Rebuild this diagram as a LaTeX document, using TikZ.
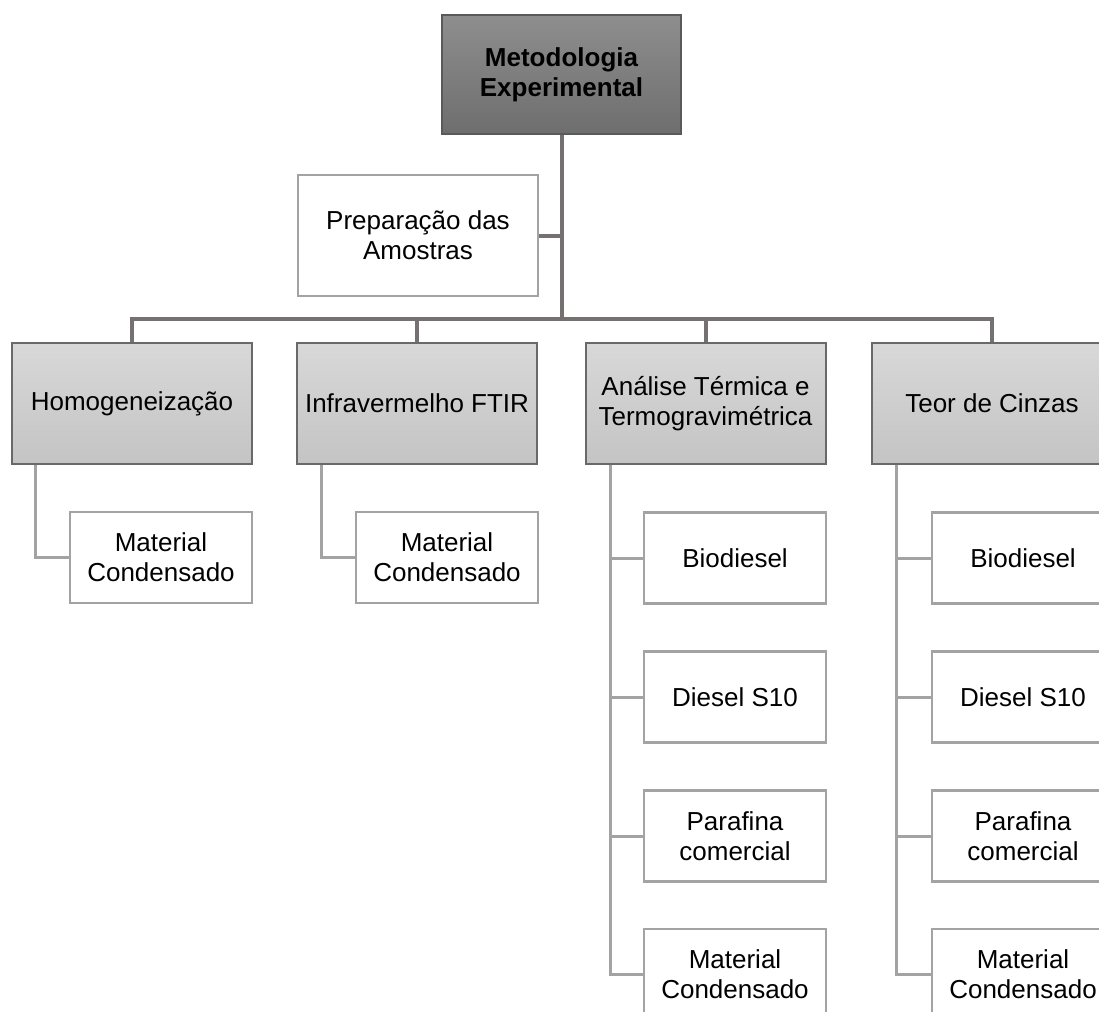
\documentclass[tikz,border=0pt]{standalone}
\usepackage{fontspec}
\setmainfont{Liberation Sans}
\definecolor{trunkc}{RGB}{118,113,113}
\definecolor{leafline}{RGB}{163,163,163}
\definecolor{topedge}{RGB}{90,90,90}
\definecolor{midedge}{RGB}{105,105,105}
\tikzset{
  every node/.style={inner sep=2pt, align=center, font=\fontsize{26}{30}\selectfont},
  rootbox/.style={draw=topedge, line width=2pt, top color={rgb,255:red,142;green,142;blue,142}, bottom color={rgb,255:red,110;green,110;blue,110}, minimum width=239pt, minimum height=119pt, font=\fontsize{26}{30}\selectfont\bfseries},
  prepbox/.style={draw=leafline, line width=2.5pt, fill=white, minimum width=240pt, minimum height=121pt},
  midbox/.style={draw=midedge, line width=2pt, top color={rgb,255:red,216;green,216;blue,216}, bottom color={rgb,255:red,196;green,196;blue,196}, minimum width=240pt, minimum height=121pt},
  leafbox/.style={draw=leafline, line width=2.5pt, fill=white, minimum width=182pt, minimum height=91pt},
  trunk/.style={draw=trunkc, line width=4pt},
  leaflink/.style={draw=leafline, line width=3pt}
}
\begin{document}
\begin{tikzpicture}[x=1pt,y=-1pt]
\clip (0,0) rectangle (1099,1011);
% nodes
\node[rootbox] (root) at (561.5,74.5) {Metodologia\\Experimental};
\node[prepbox] (prep) at (418,235.5) {Preparação das\\Amostras};
\node[midbox] (homo) at (132,403.5) {Homogeneização};
\node[midbox] (ftir) at (417,403.5) {Infravermelho FTIR};
\node[midbox] (term) at (705.5,403.5) {Análise Térmica e\\Termogravimétrica};
\node[midbox] (cinz) at (992,403.5) {Teor de Cinzas};
\node[leafbox] (homoA) at (161,557.5) {Material\\Condensado};
\node[leafbox] (ftirA) at (447,557.5) {Material\\Condensado};
\node[leafbox] (termA) at (735,558) {Biodiesel};
\node[leafbox] (termB) at (735,697) {Diesel S10};
\node[leafbox] (termC) at (735,836) {Parafina\\comercial};
\node[leafbox] (termD) at (735,974.5) {Material\\Condensado};
\node[leafbox] (cinzA) at (1023,558) {Biodiesel};
\node[leafbox] (cinzB) at (1023,697) {Diesel S10};
\node[leafbox] (cinzC) at (1023,836) {Parafina\\comercial};
\node[leafbox] (cinzD) at (1023,974.5) {Material\\Condensado};
% trunk
\coordinate (busL) at (132,319);
\coordinate (busR) at (992,319);
\coordinate (busM) at (root.south |- busL);
\draw[trunk] (root.south) -- (busM);
\draw[trunk] (prep.east) -- (prep.east -| root.south);
\draw[trunk, line cap=rect] (busL) -- (busR);
\draw[trunk] (busL) -- (homo.north);
\draw[trunk] (ftir.north |- busL) -- (ftir.north);
\draw[trunk] (term.north |- busL) -- (term.north);
\draw[trunk] (busR) -- (cinz.north);
% leaf links
\coordinate (homoS) at ([xshift=24pt]homo.south west);
\coordinate (ftirS) at ([xshift=25pt]ftir.south west);
\coordinate (termS) at ([xshift=26pt]term.south west);
\coordinate (cinzS) at ([xshift=25pt]cinz.south west);
\draw[leaflink] (homoS) |- (homoA.west);
\draw[leaflink] (ftirS) |- (ftirA.west);
\foreach \k in {termA,termB,termC,termD} \draw[leaflink] (termS) |- (\k.west);
\foreach \k in {cinzA,cinzB,cinzC,cinzD} \draw[leaflink] (cinzS) |- (\k.west);
\end{tikzpicture}
\end{document}
